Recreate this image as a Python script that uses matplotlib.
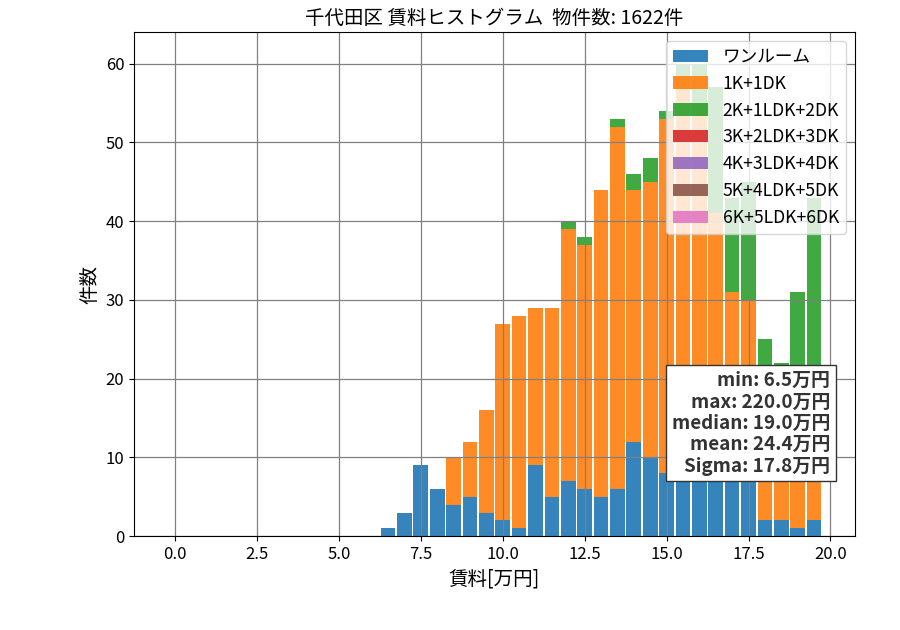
import numpy as np
import matplotlib
matplotlib.use("Agg")
import matplotlib.pyplot as plt

plt.rcParams['font.family'] = ['Noto Sans CJK JP', 'DejaVu Sans']

# bin centers (万円), bin width 0.5
bin_start = 6.5
bin_step = 0.5
labels = ['ワンルーム', '1K+1DK', '2K+1LDK+2DK', '3K+2LDK+3DK',
          '4K+3LDK+4DK', '5K+4LDK+5DK', '6K+5LDK+6DK']
colors = ['tab:blue', 'tab:orange', 'tab:green', 'tab:red',
          'tab:purple', 'tab:brown', 'tab:pink']

# counts per bin from 6.5 to 19.5
one_room = [1, 3, 9, 6, 4, 5, 3, 2, 1, 9, 5, 7, 6, 5, 6, 12, 10, 8,
            9, 11, 8, 10, 9, 2, 2, 1, 2]
k1_dk1 = [0, 0, 0, 0, 6, 7, 13, 25, 27, 20, 24, 32, 31, 39, 46, 32, 35, 45,
          48, 43, 33, 21, 21, 16, 19, 19, 17]
k2_ldk2 = [0, 0, 0, 0, 0, 0, 0, 0, 0, 0, 0, 1, 1, 0, 1, 2, 3, 1,
           3, 6, 16, 12, 15, 7, 1, 11, 24]
k3 = [0] * 27
k4 = [0] * 27
k5 = [0] * 27
k6 = [0] * 27

series = [one_room, k1_dk1, k2_ldk2, k3, k4, k5, k6]

total_count = 1622
stats_text = ("min: 6.5万円\nmax: 220.0万円\nmedian: 19.0万円\n"
              "mean: 24.4万円\nSigma: 17.8万円")

centers = bin_start + bin_step * np.arange(len(one_room))

fig = plt.figure(figsize=(9, 6.3), dpi=100)
ax = fig.add_axes([0.149, 0.149, 0.801, 0.8])

bottom = np.zeros(len(centers))
for vals, lab, col in zip(series, labels, colors):
    v = np.array(vals, dtype=float)
    ax.bar(centers, v, width=bin_step * 0.9, bottom=bottom, color=col,
           alpha=0.9, label=lab)
    bottom += v

ax.set_xlim(-1.25, 20.75)
ax.set_ylim(0, 64)
ax.grid(True, color='gray', linewidth=0.9)
ax.tick_params(labelsize=12)
ax.set_title(f'千代田区 賃料ヒストグラム  物件数: {total_count}件', fontsize=14)
ax.set_xlabel('賃料[万円]', fontsize=14)
ax.set_ylabel('件数', fontsize=14)

ax.legend(loc='upper right', fontsize=12.7)

ax.text(0.9655, 0.12, stats_text, transform=ax.transAxes, ha='right', va='bottom',
        fontsize=13.6, fontweight='bold', color='#333333', linespacing=1.16,
        bbox=dict(boxstyle='square,pad=0.3', facecolor='white', edgecolor='#333333'))

fig.savefig('out.png', dpi=100)
